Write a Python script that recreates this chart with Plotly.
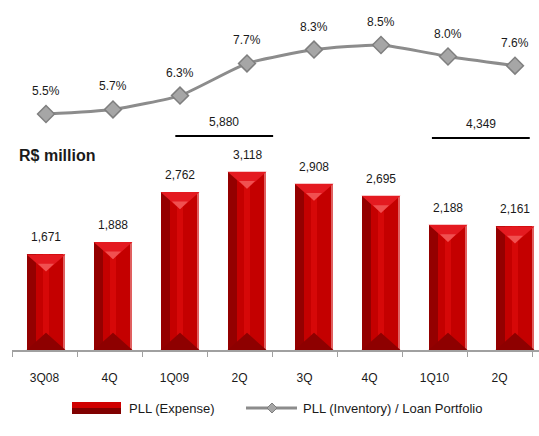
import plotly.graph_objects as go

categories = ["3Q08", "4Q", "1Q09", "2Q", "3Q", "4Q ", "1Q10", "2Q "]
tick_labels = ["3Q08", "4Q", "1Q09", "2Q", "3Q", "4Q", "1Q10", "2Q"]
pll_expense = [1671, 1888, 2762, 3118, 2908, 2695, 2188, 2161]
pll_ratio = [5.5, 5.7, 6.3, 7.7, 8.3, 8.5, 8.0, 7.6]
sum_labels = ["5,880", "4,349"]
sum_spans = [(1.93, 3.39), (5.76, 7.22)]

W, H = 539, 436
ML, MB = 12, 86
PLOT_H = H - MB
PLOT_W = W - ML
FONT = "Liberation Sans, Arial, sans-serif"
DATA_STEP, DATA_X0 = 67, 46     # bar / point spacing (px) and first centre
TICK_STEP, TICK_X0 = 65, 44.5   # category label spacing (px) and first centre

def py(px):  # pixel y from top -> paper
    return (PLOT_H - px) / PLOT_H

def pxx(px):  # pixel x -> paper
    return (px - ML) / PLOT_W

fig = go.Figure()

# bar body layers
bar_layers = [(0.58, -0.29, "#C40000"), (0.14, -0.29, "#940000"),
              (0.10, -0.05, "#D60808"), (0.03, 0.26, "#E06060")]
for w, off, col in bar_layers:
    fig.add_trace(go.Bar(x=categories, y=pll_expense, width=w, offset=off,
                         marker=dict(color=col, line=dict(width=0)),
                         showlegend=False, hoverinfo="skip"))

# bevel triangles (top highlight, bottom shade)
TRI = 300
for i, v in enumerate(pll_expense):
    fig.add_shape(type="path", xref="x", yref="y",
                  path=f"M {i-0.29} {v} L {i+0.29} {v} L {i} {v-TRI} Z",
                  fillcolor="#E41A20", line=dict(width=0), layer="above")
    fig.add_shape(type="path", xref="x", yref="y",
                  path=f"M {i-0.12} {v-TRI*0.55} L {i+0.12} {v-TRI*0.55} L {i} {v-TRI} Z",
                  fillcolor="#F05050", line=dict(width=0), layer="above")
    fig.add_shape(type="path", xref="x", yref="y",
                  path=f"M {i-0.29} 0 L {i+0.29} 0 L {i} {TRI} Z",
                  fillcolor="#8E0000", line=dict(width=0), layer="above")

# bar value labels
for c, v in zip(categories, pll_expense):
    fig.add_annotation(x=c, y=v, yref="y", text=f"{v:,}", showarrow=False, yshift=17,
                       font=dict(size=12, color="#1a1a1a", family=FONT))

# line
fig.add_trace(go.Scatter(x=categories, y=pll_ratio, yaxis="y2", mode="lines+markers",
                         line=dict(color="#8C8C8C", width=3, shape="spline", smoothing=0.5),
                         marker=dict(symbol="diamond", size=13, color="#A6A6A6",
                                     line=dict(color="#7F7F7F", width=1.5)),
                         showlegend=False, hoverinfo="skip"))
for c, v in zip(categories, pll_ratio):
    fig.add_annotation(x=c, y=v, yref="y2", text=f"{v:.1f}%", showarrow=False, yshift=23,
                       font=dict(size=12, color="#1a1a1a", family=FONT))

# sum brackets
for (x0, x1), lab, ypx in zip(sum_spans, sum_labels, [136, 138]):
    fig.add_shape(type="line", xref="x", yref="paper", x0=x0, x1=x1, y0=py(ypx), y1=py(ypx),
                  line=dict(color="black", width=2))
    fig.add_annotation(x=(x0 + x1) / 2, xref="x", y=py(ypx - 14), yref="paper", yanchor="middle",
                       text=lab, showarrow=False, font=dict(size=12, color="#1a1a1a", family=FONT))

fig.add_annotation(x=pxx(17), xref="paper", xanchor="left", y=py(155), yref="paper",
                   yanchor="middle", text="<b>R$ million</b>", showarrow=False,
                   font=dict(size=16, color="#1a1a1a", family=FONT))

# manual legend
fig.add_shape(type="rect", xref="paper", yref="paper", x0=pxx(72), x1=pxx(121),
              y0=py(408), y1=py(402), fillcolor="#D00000", line=dict(width=0))
fig.add_shape(type="rect", xref="paper", yref="paper", x0=pxx(72), x1=pxx(121),
              y0=py(414), y1=py(408), fillcolor="#800000", line=dict(width=0))
fig.add_annotation(x=pxx(127), xref="paper", xanchor="left", y=py(408), yref="paper",
                   yanchor="middle", text="PLL (Expense)", showarrow=False,
                   font=dict(size=13, color="#1a1a1a", family=FONT))
fig.add_shape(type="line", xref="paper", yref="paper", x0=pxx(246), x1=pxx(297),
              y0=py(408), y1=py(408), line=dict(color="#8C8C8C", width=3))
cx, cy = pxx(272), py(408)
dx, dy = 5 / PLOT_W, 5 / PLOT_H
fig.add_shape(type="path", xref="paper", yref="paper",
              path=f"M {cx-dx} {cy} L {cx} {cy+dy} L {cx+dx} {cy} L {cx} {cy-dy} Z",
              fillcolor="#A6A6A6", line=dict(color="#7F7F7F", width=1))
fig.add_annotation(x=pxx(301), xref="paper", xanchor="left", y=py(408), yref="paper",
                   yanchor="middle", text="PLL (Inventory) / Loan Portfolio", showarrow=False,
                   font=dict(size=13, color="#1a1a1a", family=FONT))

# invisible trace to carry the label axis
fig.add_trace(go.Scatter(x=categories, y=[None] * len(categories), xaxis="x2",
                         showlegend=False, hoverinfo="skip"))

data_lo = -(DATA_X0 - ML) / DATA_STEP
tick_lo = -(TICK_X0 - ML) / TICK_STEP

fig.update_layout(
    width=W, height=H, barmode="overlay", bargap=0,
    margin=dict(l=ML, r=0, t=0, b=MB),
    plot_bgcolor="white", paper_bgcolor="white",
    font=dict(family=FONT, size=12, color="#1a1a1a"),
    xaxis=dict(type="category", categoryorder="array", categoryarray=categories,
               range=[data_lo, data_lo + PLOT_W / DATA_STEP], visible=False),
    xaxis2=dict(type="category", categoryorder="array", categoryarray=categories,
                tickvals=categories, ticktext=tick_labels, overlaying="x", side="bottom",
                anchor="y",
                range=[tick_lo, tick_lo + PLOT_W / TICK_STEP], tickson="boundaries",
                ticks="outside", ticklen=5, tickcolor="#A0A0A0", showline=True,
                linecolor="#A0A0A0", linewidth=1.5, showgrid=False, zeroline=False,
                ticklabelstandoff=16, tickfont=dict(size=12, color="#1a1a1a")),
    yaxis=dict(range=[0, PLOT_H / 0.0572], visible=False, showgrid=False),
    yaxis2=dict(range=[5.5 - 236 / 23, 5.5 + (PLOT_H - 236) / 23], overlaying="y",
                visible=False, showgrid=False),
)

fig.write_html("out.html", config={"displayModeBar": False},
               post_script="document.body.style.margin='0';document.body.style.overflow='hidden';")
